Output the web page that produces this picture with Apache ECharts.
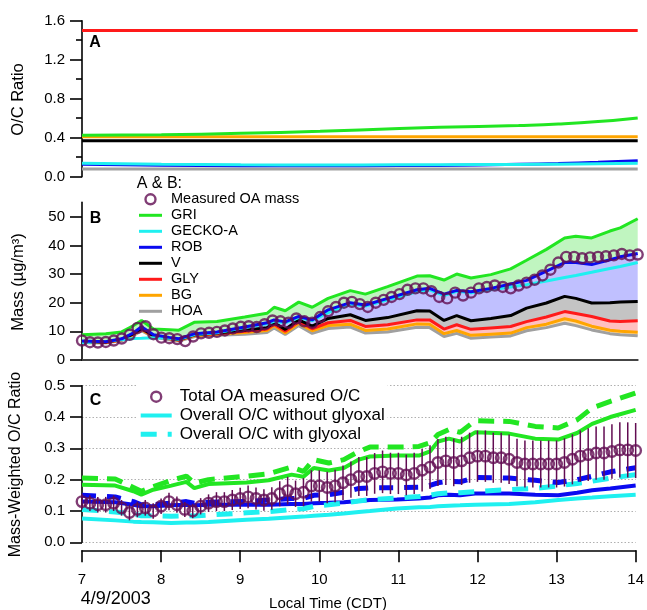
<!DOCTYPE html>
<html>
<head>
<meta charset="utf-8">
<script src="https://cdn.jsdelivr.net/npm/echarts/dist/echarts.min.js"></script>
<style>
html,body{margin:0;padding:0;background:#fff;}
#chart{width:647px;height:610px;}
</style>
</head>
<body>
<div id="chart"></div>
<script>
// ---------- Panel A : O/C ratio of each component ----------
const tA = [7, 8, 9, 10, 11, 12, 12.5, 13, 13.5, 14];
const ocGRI   = [0.425, 0.43, 0.445, 0.465, 0.495, 0.515, 0.525, 0.54, 0.565, 0.603];
const ocGECKO = [0.138, 0.128, 0.122, 0.121, 0.122, 0.124, 0.126, 0.128, 0.132, 0.137];
const ocROB   = [0.128, 0.118, 0.113, 0.112, 0.114, 0.12, 0.127, 0.136, 0.148, 0.163];
const ocV     = [0.37, 0.37, 0.37, 0.37, 0.37, 0.37, 0.37, 0.37, 0.37, 0.37];
const ocGLY   = [1.5, 1.5, 1.5, 1.5, 1.5, 1.5, 1.5, 1.5, 1.5, 1.5];
const ocBG    = [0.41, 0.41, 0.41, 0.41, 0.41, 0.41, 0.41, 0.41, 0.41, 0.41];
const ocHOA   = [0.08, 0.08, 0.08, 0.08, 0.08, 0.08, 0.08, 0.08, 0.08, 0.08];

// ---------- Panel B : cumulative mass ----------
const tB = [7.0, 7.3, 7.5, 7.65, 7.75, 7.9, 8.1, 8.22, 8.42, 8.7, 9.05, 9.33, 9.42, 9.56, 9.73, 9.9, 10.1, 10.38, 10.57, 10.85, 11.22, 11.38, 11.56, 11.72, 11.9, 12.15, 12.4, 12.6, 12.85, 13.08, 13.22, 13.42, 13.65, 13.78, 14.0];
const massHOA   = [6.0, 5.9, 6.8, 8.6, 10.2, 8.0, 7.1, 6.6, 8.2, 8.6, 9.0, 9.6, 11.2, 8.9, 12.0, 9.3, 11.0, 11.5, 9.4, 9.8, 11.4, 11.3, 8.2, 9.3, 7.6, 8.0, 8.4, 10.2, 11.3, 12.8, 12.0, 10.5, 9.2, 8.8, 8.5];
const massBG    = [6.2, 6.1, 7.0, 8.9, 10.6, 8.2, 7.4, 6.9, 8.5, 9.0, 9.6, 10.3, 12.0, 9.4, 12.8, 10.2, 12.0, 12.5, 10.3, 10.8, 12.6, 12.5, 9.2, 10.3, 8.6, 9.0, 9.4, 11.3, 12.5, 14.4, 13.6, 11.8, 10.4, 10.0, 9.7];
const massGLY   = [6.3, 6.2, 7.1, 9.1, 10.8, 8.4, 7.5, 7.0, 8.7, 9.2, 10.0, 10.8, 12.5, 10.0, 13.4, 10.9, 13.0, 13.8, 11.7, 12.3, 14.0, 14.0, 10.8, 12.3, 10.7, 11.2, 11.7, 13.4, 15.0, 16.9, 16.2, 15.2, 13.6, 13.4, 13.7];
const massV     = [6.4, 6.3, 7.2, 9.2, 11.0, 8.5, 7.6, 7.1, 8.8, 9.4, 10.4, 11.3, 13.0, 10.7, 14.0, 11.8, 14.5, 15.8, 13.8, 14.8, 17.2, 17.1, 13.8, 15.5, 13.7, 14.5, 15.5, 18.1, 19.9, 22.2, 21.5, 19.9, 20.0, 20.2, 20.4];
const massGECKO = [6.0, 6.5, 7.1, 7.5, 7.6, 7.8, 7.6, 7.2, 8.9, 9.5, 11.3, 12.6, 13.5, 13.0, 14.8, 13.7, 16.5, 19.5, 18.8, 21.0, 23.8, 24.5, 22.5, 24.0, 23.5, 24.5, 25.5, 26.3, 27.6, 28.8, 29.5, 30.6, 31.9, 32.6, 34.0];
const massROB   = [6.6, 6.4, 7.4, 9.5, 11.6, 8.8, 7.9, 7.4, 9.2, 9.8, 11.5, 13.0, 14.0, 13.3, 15.2, 14.0, 17.5, 20.0, 19.2, 21.5, 24.5, 25.0, 23.0, 24.3, 23.8, 25.0, 26.5, 27.8, 31.0, 34.0, 34.0, 33.3, 35.0, 36.0, 37.2];
const massGRI   = [8.8, 9.2, 9.8, 12.0, 13.8, 10.8, 10.6, 10.4, 13.2, 13.4, 15.0, 16.3, 18.4, 17.2, 20.2, 18.4, 21.5, 24.2, 23.0, 25.6, 29.3, 29.4, 27.9, 30.0, 28.6, 29.8, 31.8, 34.8, 38.6, 42.6, 43.2, 42.6, 45.0, 46.1, 49.3];
const massTicks = [0, 10, 20, 30, 40, 50];

// ---------- Measurements (every 0.1 h) ----------
const measTime = [7.0, 7.1, 7.2, 7.3, 7.4, 7.5, 7.6, 7.7, 7.8, 7.9, 8.0, 8.1, 8.2, 8.3, 8.4, 8.5, 8.6, 8.7, 8.8, 8.9, 9.0, 9.1, 9.2, 9.3, 9.4, 9.5, 9.6, 9.7, 9.8, 9.9, 10.0, 10.1, 10.2, 10.3, 10.4, 10.5, 10.6, 10.7, 10.8, 10.9, 11.0, 11.1, 11.2, 11.3, 11.4, 11.5, 11.6, 11.7, 11.8, 11.9, 12.0, 12.1, 12.2, 12.3, 12.4, 12.5, 12.6, 12.7, 12.8, 12.9, 13.0, 13.1, 13.2, 13.3, 13.4, 13.5, 13.6, 13.7, 13.8, 13.9, 14.0];
const measMass = [6.8, 6.2, 6.1, 6.3, 6.8, 7.5, 8.8, 11.2, 11.8, 9.0, 7.8, 7.6, 7.3, 6.6, 8.2, 9.3, 9.5, 9.8, 10.3, 11.0, 11.6, 11.8, 11.5, 12.5, 13.8, 13.5, 13.0, 14.5, 13.5, 13.0, 15.0, 17.0, 18.5, 20.0, 20.3, 19.5, 18.5, 20.0, 21.0, 22.0, 23.0, 24.5, 25.0, 25.0, 24.0, 22.0, 21.5, 23.5, 22.5, 23.5, 25.0, 25.5, 26.0, 25.5, 25.0, 26.0, 27.0, 28.0, 29.5, 31.5, 34.0, 36.0, 36.0, 35.5, 35.8, 36.0, 36.2, 36.5, 37.0, 36.5, 36.8];
const measOC = [0.13, 0.125, 0.12, 0.12, 0.125, 0.11, 0.095, 0.105, 0.11, 0.1, 0.115, 0.13, 0.12, 0.105, 0.1, 0.115, 0.125, 0.13, 0.13, 0.135, 0.14, 0.145, 0.14, 0.135, 0.14, 0.155, 0.165, 0.155, 0.16, 0.18, 0.18, 0.175, 0.18, 0.19, 0.2, 0.21, 0.21, 0.22, 0.225, 0.22, 0.22, 0.215, 0.22, 0.23, 0.24, 0.255, 0.26, 0.255, 0.26, 0.27, 0.275, 0.275, 0.27, 0.27, 0.265, 0.255, 0.25, 0.25, 0.25, 0.25, 0.25, 0.255, 0.265, 0.275, 0.28, 0.285, 0.285, 0.29, 0.295, 0.295, 0.293];
const measOCerr = [0.025, 0.025, 0.025, 0.025, 0.025, 0.025, 0.025, 0.025, 0.025, 0.025, 0.025, 0.028, 0.026, 0.024, 0.023, 0.026, 0.028, 0.03, 0.03, 0.032, 0.034, 0.036, 0.035, 0.034, 0.036, 0.04, 0.044, 0.042, 0.045, 0.05, 0.05, 0.05, 0.052, 0.055, 0.058, 0.062, 0.062, 0.065, 0.068, 0.066, 0.066, 0.065, 0.066, 0.068, 0.07, 0.075, 0.077, 0.076, 0.077, 0.08, 0.082, 0.082, 0.08, 0.08, 0.079, 0.076, 0.075, 0.075, 0.075, 0.075, 0.075, 0.077, 0.08, 0.082, 0.084, 0.085, 0.085, 0.087, 0.088, 0.088, 0.088];

// ---------- Panel C : mass-weighted O/C ----------
const tC = [7, 7.42, 7.65, 7.75, 7.9, 8.13, 8.32, 8.42, 8.6, 9.08, 9.36, 9.65, 9.8, 9.93, 10.12, 10.31, 10.5, 10.64, 10.98, 11.26, 11.4, 11.5, 11.64, 11.78, 11.97, 12.4, 12.73, 13.02, 13.26, 13.45, 13.68, 14];
const gri     = [0.184, 0.181, 0.163, 0.152, 0.168, 0.181, 0.193, 0.173, 0.186, 0.191, 0.198, 0.216, 0.209, 0.237, 0.229, 0.237, 0.264, 0.274, 0.277, 0.277, 0.29, 0.322, 0.331, 0.322, 0.351, 0.347, 0.331, 0.328, 0.349, 0.378, 0.4, 0.423];
const griGly  = [0.205, 0.202, 0.175, 0.163, 0.178, 0.198, 0.211, 0.189, 0.2, 0.211, 0.219, 0.24, 0.226, 0.264, 0.253, 0.264, 0.29, 0.304, 0.304, 0.306, 0.318, 0.344, 0.36, 0.351, 0.388, 0.386, 0.37, 0.365, 0.391, 0.429, 0.45, 0.477];
const rob     = [0.13, 0.128, 0.12, 0.115, 0.115, 0.118, 0.12, 0.118, 0.12, 0.12, 0.12, 0.122, 0.122, 0.125, 0.126, 0.128, 0.132, 0.135, 0.137, 0.14, 0.143, 0.15, 0.152, 0.15, 0.156, 0.156, 0.152, 0.15, 0.158, 0.166, 0.172, 0.181];
const robGly  = [0.15, 0.145, 0.13, 0.12, 0.12, 0.125, 0.13, 0.125, 0.128, 0.13, 0.135, 0.14, 0.14, 0.15, 0.152, 0.16, 0.172, 0.174, 0.174, 0.176, 0.182, 0.19, 0.195, 0.193, 0.207, 0.205, 0.198, 0.191, 0.2, 0.211, 0.225, 0.238];
const gecko   = [0.076, 0.07, 0.066, 0.065, 0.064, 0.062, 0.063, 0.063, 0.065, 0.072, 0.075, 0.08, 0.082, 0.085, 0.088, 0.092, 0.097, 0.1, 0.108, 0.112, 0.113, 0.115, 0.117, 0.118, 0.12, 0.122, 0.128, 0.135, 0.14, 0.143, 0.147, 0.152];
const geckoGly= [0.105, 0.097, 0.09, 0.085, 0.085, 0.083, 0.085, 0.084, 0.087, 0.094, 0.098, 0.105, 0.107, 0.115, 0.12, 0.125, 0.132, 0.136, 0.141, 0.146, 0.15, 0.155, 0.158, 0.158, 0.162, 0.168, 0.172, 0.18, 0.188, 0.195, 0.205, 0.216];
const hourTicks = [7, 8, 9, 10, 11, 12, 13, 14];

// ---------- styling ----------
const FONT = '"Liberation Sans", Arial, Helvetica, sans-serif';
const C = {
  gri: '#22e622', gecko: '#1ff0f0', rob: '#0a0af0', v: '#000000',
  gly: '#ff1a1a', bg: '#ffa500', hoa: '#a0a0a0', meas: '#620c52'
};
const pairs = (t, v) => t.map((x, i) => [x, v[i]]);

function line(name, ax, t, v, color, width, dash, smooth) {
  return {
    type: 'line', name: name, xAxisIndex: ax, yAxisIndex: ax,
    data: pairs(t, v), symbol: 'none', showSymbol: false, smooth: !!smooth, silent: true,
    lineStyle: { color: color, width: width, type: dash || 'solid', cap: 'butt' },
    itemStyle: { color: color }, z: 3
  };
}
function band(lower, upper, fill) {
  return {
    type: 'custom', xAxisIndex: 1, yAxisIndex: 1, data: [[7, 0]], silent: true, z: 1,
    renderItem: function (params, api) {
      const pts = [];
      for (let i = 0; i < tB.length; i++) pts.push(api.coord([tB[i], upper[i]]));
      for (let i = tB.length - 1; i >= 0; i--) pts.push(api.coord([tB[i], lower[i]]));
      return { type: 'polygon', shape: { points: pts }, style: { fill: fill } };
    }
  };
}

// legend sample glyphs
const ICON_B = 'path://M0,0h23v3h-23z';
const ICON_SOLID = 'path://M0,0h31v4h-31z';
const ICON_DASH = 'path://M0,0h16v5h-16z M27,0h4v5h-4z';
const circleItem = (name) => ({ name: name, icon: 'circle',
  itemStyle: { color: 'rgba(0,0,0,0)', borderColor: C.meas, borderWidth: 2.4 } });

const left = 82, plotW = 555.7;
const yAxisCommon = {
  type: 'value',
  axisLine: { show: true, onZero: false, lineStyle: { color: '#000', width: 1.6 } },
  axisTick: { show: true, length: 12, lineStyle: { color: '#000', width: 1.6 } },
  axisLabel: { color: '#000', fontSize: 15, fontFamily: FONT, margin: 17 },
  splitLine: { show: false }
};

const option = {
  animation: false,
  backgroundColor: '#fff',
  grid: [
    { left: left, top: 20.7, width: plotW, height: 156 },
    { left: left, top: 202.4, width: plotW, height: 157.6 },
    { left: left, top: 385.7, width: plotW, height: 156.6 }
  ],
  xAxis: [
    { gridIndex: 0, type: 'value', min: 7, max: 14, show: false },
    { gridIndex: 1, type: 'value', min: 7, max: 14,
      axisLine: { show: true, onZero: false, lineStyle: { color: '#444', width: 2 } },
      axisTick: { show: false }, axisLabel: { show: false }, splitLine: { show: false } },
    { gridIndex: 2, type: 'value', min: 7, max: 14, interval: 1, offset: 8,
      axisLine: { show: true, onZero: false, lineStyle: { color: '#000', width: 1.6 } },
      axisTick: { show: true, length: 12, lineStyle: { color: '#000', width: 1.6 }, customValues: hourTicks },
      axisLabel: { color: '#000', fontSize: 15, fontFamily: FONT, margin: 22, customValues: hourTicks },
      splitLine: { show: false } }
  ],
  yAxis: [
    Object.assign({}, yAxisCommon, {
      gridIndex: 0, min: 0, max: 1.6, interval: 0.4,
      minorTick: { show: true, splitNumber: 2, length: 6, lineStyle: { color: '#000', width: 1.6 } },
      axisLabel: Object.assign({}, yAxisCommon.axisLabel, { formatter: v => v.toFixed(1) })
    }),
    Object.assign({}, yAxisCommon, {
      gridIndex: 1, min: 0, max: 55,
      axisTick: Object.assign({}, yAxisCommon.axisTick, { customValues: massTicks }),
      axisLabel: Object.assign({}, yAxisCommon.axisLabel, { customValues: massTicks })
    }),
    Object.assign({}, yAxisCommon, {
      gridIndex: 2, min: 0, max: 0.5, interval: 0.1,
      axisLabel: Object.assign({}, yAxisCommon.axisLabel, { formatter: v => v.toFixed(1) }),
      splitLine: { show: true, lineStyle: { color: '#b0b0b0', width: 1, type: [1.5, 2] } }
    })
  ],
  legend: [
    {
      data: [
        circleItem('Measured OA mass'),
        { name: 'GRI', icon: ICON_B }, { name: 'GECKO-A', icon: ICON_B },
        { name: 'ROB', icon: ICON_B }, { name: 'V', icon: ICON_B },
        { name: 'GLY', icon: ICON_B }, { name: 'BG', icon: ICON_B },
        { name: 'HOA', icon: ICON_B }
      ],
      orient: 'vertical', left: 139, top: 191.3, padding: 0,
      itemWidth: 23, itemHeight: 10, itemGap: 0, selectedMode: false,
      textStyle: { color: '#000', fontSize: 14.5, fontFamily: FONT, lineHeight: 16, padding: [0, 0, 0, 4] }
    },
    {
      data: [
        circleItem('Total OA measured O/C'),
        { name: 'Overall O/C without glyoxal', icon: ICON_SOLID },
        { name: 'Overall O/C with glyoxal', icon: ICON_DASH }
      ],
      orient: 'vertical', left: 137.7, top: 384.3, padding: [3, 3, 4, 3],
      backgroundColor: '#fff', z: 1,
      itemWidth: 31, itemHeight: 10, itemGap: 0, selectedMode: false,
      textStyle: { color: '#000', fontSize: 17, fontFamily: FONT, lineHeight: 18.8, padding: [0, 0, 0, 3] }
    }
  ],
  graphic: [
    { type: 'text', x: 95, y: 42.5, style: { text: 'A', font: 'bold 16px ' + FONT, fill: '#000', align: 'center', verticalAlign: 'middle' } },
    { type: 'text', x: 95.5, y: 218.3, style: { text: 'B', font: 'bold 16px ' + FONT, fill: '#000', align: 'center', verticalAlign: 'middle' } },
    { type: 'text', x: 95.5, y: 400.5, style: { text: 'C', font: 'bold 16px ' + FONT, fill: '#000', align: 'center', verticalAlign: 'middle' } },
    { type: 'text', x: 136.7, y: 183.3, style: { text: 'A & B:', font: '16px ' + FONT, fill: '#000', align: 'left', verticalAlign: 'middle' } },
    { type: 'text', x: 18.5, y: 99.5, rotation: Math.PI / 2, style: { text: 'O/C Ratio', font: '16.5px ' + FONT, fill: '#000', align: 'center', verticalAlign: 'middle' } },
    { type: 'text', x: 18, y: 282, rotation: Math.PI / 2, style: { text: 'Mass (µg/m³)', font: '16.5px ' + FONT, fill: '#000', align: 'center', verticalAlign: 'middle' } },
    { type: 'text', x: 16, y: 464.5, rotation: Math.PI / 2, style: { text: 'Mass-Weighted O/C Ratio', font: '16px ' + FONT, fill: '#000', align: 'center', verticalAlign: 'middle' } },
    { type: 'text', x: 80.7, y: 599, style: { text: '4/9/2003', font: '18px ' + FONT, fill: '#000', align: 'left', verticalAlign: 'middle' } },
    { type: 'text', x: 328, y: 603.5, style: { text: 'Local Time (CDT)', font: '15px ' + FONT, fill: '#000', align: 'center', verticalAlign: 'middle' } }
  ],
  series: [
    // Panel A
    line('HOA', 0, tA, ocHOA, C.hoa, 3),
    line('ROB', 0, tA, ocROB, C.rob, 3, null, true),
    line('GECKO-A', 0, tA, ocGECKO, C.gecko, 3, null, true),
    line('V', 0, tA, ocV, C.v, 3),
    line('BG', 0, tA, ocBG, C.bg, 3),
    line('GRI', 0, tA, ocGRI, C.gri, 3, null, true),
    line('GLY', 0, tA, ocGLY, C.gly, 3),
    // Panel B fills
    band(massHOA, massBG, '#ffdfae'),
    band(massBG, massGLY, '#ffc0c0'),
    band(massGLY, massV, '#c4c4c4'),
    band(massV, massROB, '#c0c0ff'),
    band(massROB, massGRI, '#c0f5c0'),
    // Panel B lines
    line('HOA', 1, tB, massHOA, C.hoa, 3),
    line('BG', 1, tB, massBG, C.bg, 3),
    line('GLY', 1, tB, massGLY, C.gly, 3),
    line('V', 1, tB, massV, C.v, 3),
    line('GECKO-A', 1, tB, massGECKO, C.gecko, 3),
    line('ROB', 1, tB, massROB, C.rob, 3),
    line('GRI', 1, tB, massGRI, C.gri, 3),
    {
      type: 'scatter', name: 'Measured OA mass', xAxisIndex: 1, yAxisIndex: 1,
      data: pairs(measTime, measMass), symbol: 'circle', symbolSize: 10, silent: true, z: 5,
      itemStyle: { color: 'rgba(0,0,0,0)', borderColor: C.meas, borderWidth: 2.4 }
    },
    // Panel C
    line('Overall O/C without glyoxal', 2, tC, gecko, C.gecko, 4),
    line('ROB O/C', 2, tC, rob, C.rob, 4),
    line('GRI O/C', 2, tC, gri, C.gri, 4),
    line('Overall O/C with glyoxal', 2, tC, geckoGly, C.gecko, 5, [16, 11]),
    line('ROB O/C glyoxal', 2, tC, robGly, C.rob, 5, [14, 11]),
    line('GRI O/C glyoxal', 2, tC, griGly, C.gri, 5, [16, 9]),
    {
      type: 'custom', name: 'err', xAxisIndex: 2, yAxisIndex: 2, silent: true, z: 4,
      data: measTime.map((t, i) => [t, measOC[i], measOCerr[i]]),
      renderItem: function (params, api) {
        const x = api.value(0), y = api.value(1), e = api.value(2);
        const p1 = api.coord([x, y - e]), p2 = api.coord([x, y + e]);
        return { type: 'line', shape: { x1: p1[0], y1: p1[1], x2: p2[0], y2: p2[1] },
                 style: { stroke: C.meas, lineWidth: 1.5 } };
      }
    },
    {
      type: 'scatter', name: 'Total OA measured O/C', xAxisIndex: 2, yAxisIndex: 2,
      data: pairs(measTime, measOC), symbol: 'circle', symbolSize: 10.5, silent: true, z: 5,
      itemStyle: { color: 'rgba(0,0,0,0)', borderColor: C.meas, borderWidth: 2.4 }
    }
  ]
};

const chart = echarts.init(document.getElementById('chart'), null, { renderer: 'canvas' });
chart.setOption(option);
</script>
</body>
</html>
